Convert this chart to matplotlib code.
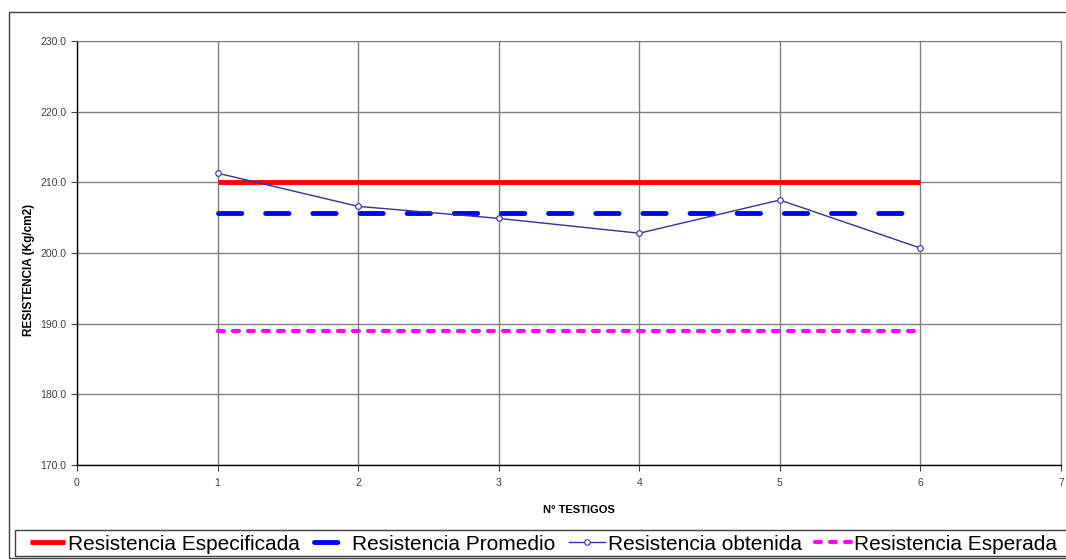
import matplotlib
matplotlib.use("Agg")
import matplotlib.pyplot as plt
from matplotlib.patches import Rectangle

plt.rcParams['font.family'] = ['Liberation Sans', 'DejaVu Sans']

# Datos de los testigos
testigos = [1, 2, 3, 4, 5, 6]
resistencia_obtenida = [211.3, 206.6, 204.9, 202.8, 207.5, 200.7]
resistencia_especificada = 210.0
resistencia_esperada = 189.0
resistencia_promedio = sum(resistencia_obtenida) / len(resistencia_obtenida)

fig = plt.figure(figsize=(10.66, 5.6), dpi=100)
ax = fig.add_axes([0.0722, 0.1696, 0.9231, 0.7572])

# Marco exterior del gráfico y recuadro de la leyenda
fig.patches.append(Rectangle((0.0084, 0.004), 1.2, 0.975, transform=fig.transFigure,
                             fill=False, edgecolor='#404040', linewidth=1.0))
fig.patches.append(Rectangle((0.0141, 0.008), 1.2, 0.046, transform=fig.transFigure,
                             fill=False, edgecolor='#404040', linewidth=1.0))

ax.plot(testigos, [resistencia_especificada] * len(testigos), color='#ff0000',
        linewidth=3.5, label='Resistencia Especificada', solid_capstyle='butt')
ax.plot(testigos, [resistencia_promedio] * len(testigos), color='#0000ff',
        linewidth=3.5, dashes=(4.8, 4.9), dash_capstyle='round',
        label='Resistencia Promedio')
ax.plot(testigos, resistencia_obtenida, color='#333399', linewidth=1.0,
        marker='o', markersize=4, markerfacecolor='white',
        markeredgecolor='#333399', markeredgewidth=0.8, label='Resistencia obtenida')
ax.plot(testigos, [resistencia_esperada] * len(testigos), color='#ff00ff',
        linewidth=3.0, dashes=(1.4, 2.2), dash_capstyle='round',
        label='Resistencia Esperada')

ax.set_xlim(0, 7)
ax.set_ylim(170, 230)
ax.set_xticks(range(0, 8))
ax.set_yticks(range(170, 231, 10))
ax.set_yticklabels([f"{v:.1f}" for v in range(170, 231, 10)])
ax.grid(True, color='#808080', linewidth=1.0)
ax.set_axisbelow(True)

for s in ['top', 'right']:
    ax.spines[s].set_color('#808080')
for s in ['left', 'bottom']:
    ax.spines[s].set_color('#000000')
    ax.spines[s].set_linewidth(1.0)

ax.tick_params(axis='both', labelsize=7.5, colors='#404040', length=4, width=0.8)
ax.tick_params(axis='x', pad=5)
ax.set_xlabel('N° TESTIGOS', fontsize=8, fontweight='bold')
ax.xaxis.set_label_coords(0.51, -0.094)
ax.set_ylabel('RESISTENCIA (Kg/cm2)', fontsize=8.5, fontweight='bold')
ax.yaxis.set_label_coords(-0.043, 0.46)

leg = fig.legend(loc='center left', bbox_to_anchor=(0.0281, 0.0285),
                 ncol=4, fontsize=15, frameon=False,
                 handlelength=1.7, handletextpad=0.15, columnspacing=0.65,
                 borderpad=0, borderaxespad=0)

fig.savefig('out.png', dpi=100)
